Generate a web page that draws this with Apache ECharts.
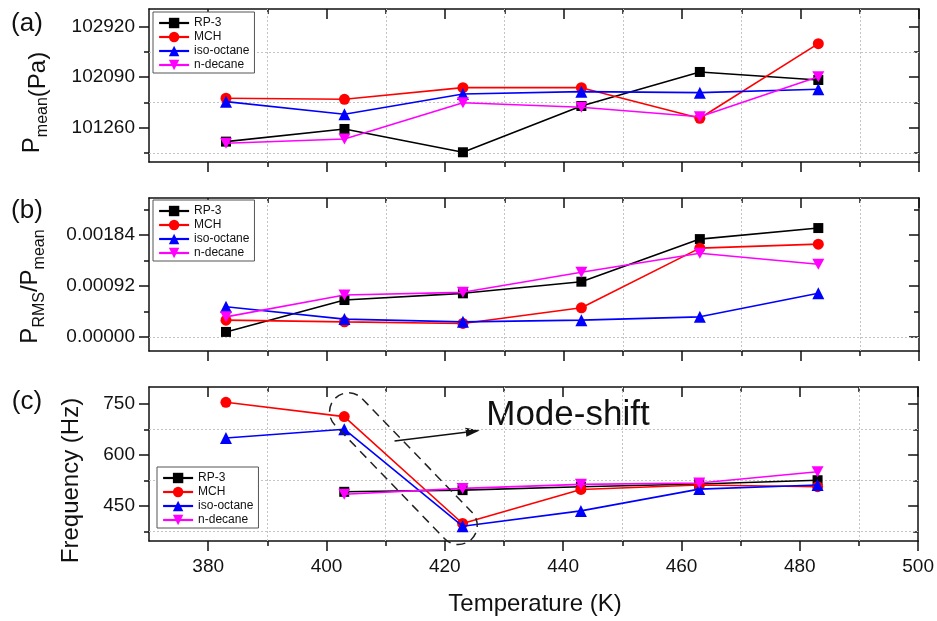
<!DOCTYPE html>
<html>
<head>
<meta charset="utf-8">
<script src="https://cdn.jsdelivr.net/npm/echarts@6/dist/echarts.min.js"></script>
<style>
  html, body { margin: 0; padding: 0; background: #fff; }
  #chart { width: 937px; height: 621px; }
</style>
</head>
<body>
<div id="chart"></div>
<script>
// ---- data ----
const temperatures = [383, 403, 423, 443, 463, 483];
const seriesNames = ['RP-3', 'MCH', 'iso-octane', 'n-decane'];

// (a) mean pressure, Pa
const pMeanRP3       = [101031, 101239, 100856, 101617, 102176, 102044];
const pMeanMCH       = [101744, 101727, 101918, 101918, 101415, 102641];
const pMeanIsoOctane = [101688, 101481, 101814, 101852, 101836, 101891];
const pMeanNDecane   = [101004, 101075, 101671, 101596, 101441, 102098];

// (b) P_RMS / P_mean
const ratioRP3       = [0.000090, 0.000665, 0.000786, 0.000996, 0.001764, 0.001963];
const ratioMCH       = [0.000302, 0.000272, 0.000243, 0.000525, 0.001601, 0.001673];
const ratioIsoOctane = [0.000543, 0.000321, 0.000272, 0.000302, 0.000362, 0.000786];
const ratioNDecane   = [0.000362, 0.000755, 0.000804, 0.001166, 0.001510, 0.001311];

// (c) dominant frequency, Hz (no RP-3 / n-decane point at 383 K)
const freqRP3        = [null, 492, 497, 507, 515, 526];
const freqMCH        = [755, 713, 399, 499, 512, 507];
const freqIsoOctane  = [650, 676, 391, 436, 500, 512];
const freqNDecane    = [null, 485, 502, 514, 518, 551];

// ---- axes ----
const xRange = [370, 500];
const xMajorTicks = [380, 400, 420, 440, 460, 480, 500];
const xMinorTicks = [390, 410, 430, 450, 470, 490];

const yRangeA = [100696, 103211];
const yMajorA = [101260, 102090, 102920];
const yMinorA = [100845, 101675, 102505];

const yRangeB = [-0.000254, 0.002505];
const yMajorB = [0, 0.00092, 0.00184];
const yMinorB = [0.00046, 0.00138, 0.00230];

const yRangeC = [347.5, 800];
const yMajorC = [450, 600, 750];
const yMinorC = [375, 525, 675];

// annotation in panel (c), data coordinates
const modeShiftText = 'Mode-shift';
const modeShiftTextAt = [427.0, 716.6];
const arrowFrom = [411.5, 641.6];
const arrowTo = [425.9, 672.0];
const regionCenter = [413.0, 560.0];

// ---- styling ----
const fontFamily = '"Liberation Sans", Arial, Helvetica, sans-serif';
const ink = '#111';
const colors = ['#000000', '#ff0000', '#0000ff', '#ff00ff'];
const markers = [
  { symbol: 'rect', size: 10 },
  { symbol: 'circle', size: 11 },
  { symbol: 'triangle', size: 12 },
  { symbol: 'path://M0,0L10,0L5,9Z', size: [12, 11] }
];
const frameStyle = { color: ink, width: 1.5 };
const tickStyle = { color: ink, width: 1.5 };
const gridLineStyle = { color: '#c4c4c4', width: 1, type: [2, 2] };

const panels = [
  { top: 9,   height: 153, legendLeft: 153, legendTop: 12,
    yRange: yRangeA, yMajor: yMajorA, yMinor: yMinorA,
    fmt: v => String(Math.round(v)),
    values: [pMeanRP3, pMeanMCH, pMeanIsoOctane, pMeanNDecane], xLabels: false },
  { top: 198, height: 153, legendLeft: 153, legendTop: 200,
    yRange: yRangeB, yMajor: yMajorB, yMinor: yMinorB,
    fmt: v => v.toFixed(5),
    values: [ratioRP3, ratioMCH, ratioIsoOctane, ratioNDecane], xLabels: false },
  { top: 387, height: 154, legendLeft: 157, legendTop: 467,
    yRange: yRangeC, yMajor: yMajorC, yMinor: yMinorC,
    fmt: v => String(Math.round(v)),
    values: [freqRP3, freqMCH, freqIsoOctane, freqNDecane], xLabels: true }
];

const grid = [], xAxis = [], yAxis = [], series = [], legend = [];

panels.forEach((p, gi) => {
  grid.push({ left: 149, width: 770, top: p.top, height: p.height, containLabel: false });

  const xBase = { gridIndex: gi, type: 'value', min: xRange[0], max: xRange[1],
    splitLine: { show: false }, axisLabel: { show: false },
    axisLine: { show: false, onZero: false } };
  xAxis.push(
    { ...xBase, position: 'bottom',
      axisLine: { show: true, onZero: false, lineStyle: frameStyle },
      axisTick: { show: true, customValues: xMajorTicks, length: 10, lineStyle: tickStyle },
      axisLabel: p.xLabels
        ? { show: true, customValues: xMajorTicks, fontSize: 19, color: ink, fontFamily, margin: 16 }
        : { show: false } },
    { ...xBase, position: 'bottom',
      axisTick: { show: true, customValues: xMinorTicks, length: 5, lineStyle: tickStyle } },
    { ...xBase, position: 'top',
      axisLine: { show: true, onZero: false, lineStyle: frameStyle },
      axisTick: { show: true, inside: true, customValues: xMajorTicks, length: 10, lineStyle: tickStyle } },
    { ...xBase, position: 'top',
      axisTick: { show: true, inside: true, customValues: xMinorTicks, length: 5, lineStyle: tickStyle } }
  );

  const yBase = { gridIndex: gi, type: 'value', min: p.yRange[0], max: p.yRange[1],
    splitLine: { show: false }, axisLabel: { show: false },
    axisLine: { show: false, onZero: false } };
  yAxis.push(
    { ...yBase, position: 'left',
      axisLine: { show: true, onZero: false, lineStyle: frameStyle },
      axisTick: { show: true, customValues: p.yMajor, length: 10, lineStyle: tickStyle },
      axisLabel: { show: true, customValues: p.yMajor, formatter: p.fmt,
        fontSize: 19, color: ink, fontFamily, margin: 14 } },
    { ...yBase, position: 'left',
      axisTick: { show: true, customValues: p.yMinor, length: 5, lineStyle: tickStyle } },
    { ...yBase, position: 'right',
      axisLine: { show: true, onZero: false, lineStyle: frameStyle },
      axisTick: { show: true, inside: true, customValues: p.yMajor, length: 10, lineStyle: tickStyle } },
    { ...yBase, position: 'right',
      axisTick: { show: true, inside: true, customValues: p.yMinor, length: 5, lineStyle: tickStyle } }
  );

  // dotted grid at the minor tick positions, drawn beneath the data
  series.push({
    name: 'grid-' + gi, type: 'line', xAxisIndex: gi * 4, yAxisIndex: gi * 4,
    data: [], z: 1, silent: true, animation: false,
    markLine: {
      silent: true, animation: false, z: 1, symbol: ['none', 'none'],
      label: { show: false }, emphasis: { disabled: true },
      lineStyle: gridLineStyle,
      data: xMinorTicks.map(v => ({ xAxis: v })).concat(p.yMinor.map(v => ({ yAxis: v })))
    }
  });

  p.values.forEach((vals, si) => {
    series.push({
      name: seriesNames[si], type: 'line',
      xAxisIndex: gi * 4, yAxisIndex: gi * 4,
      data: temperatures.map((t, i) => (vals[i] == null ? null : [t, vals[i]])).filter(Boolean),
      symbol: markers[si].symbol, symbolSize: markers[si].size, showAllSymbol: true,
      lineStyle: { color: colors[si], width: 1.6 },
      itemStyle: { color: colors[si] },
      z: 3 + si, animation: false
    });
  });

  legend.push({
    data: seriesNames, orient: 'vertical', left: p.legendLeft, top: p.legendTop,
    itemWidth: 30, itemHeight: 13, itemGap: 2, padding: [5, 5, 2, 5],
    borderColor: '#555', borderWidth: 1, backgroundColor: '#fff',
    textStyle: { fontSize: 12, color: ink, fontFamily },
    lineStyle: { width: 2.2 },
    selectedMode: false, z: 10
  });
});

const chart = echarts.init(document.getElementById('chart'));

const titleRich = {
  m: { fontSize: 24, lineHeight: 36, verticalAlign: 'middle', fontFamily },
  s: { fontSize: 16, lineHeight: 16, verticalAlign: 'bottom', fontFamily },
  o: { fontSize: 24, lineHeight: 24, verticalAlign: 'bottom', fontFamily }
};

const staticGraphics = [
  { type: 'text', x: 27, y: 24, style: { text: '(a)', fontSize: 26, fontFamily, fill: ink, align: 'center', verticalAlign: 'middle' } },
  { type: 'text', x: 27, y: 211, style: { text: '(b)', fontSize: 26, fontFamily, fill: ink, align: 'center', verticalAlign: 'middle' } },
  { type: 'text', x: 27, y: 402, style: { text: '(c)', fontSize: 26, fontFamily, fill: ink, align: 'center', verticalAlign: 'middle' } },
  { type: 'text', x: 32.5, y: 102.5, rotation: Math.PI / 2,
    style: { text: '{m|P}{s|mean}{o|(Pa)}', rich: titleRich, fill: ink, align: 'center', verticalAlign: 'middle' } },
  { type: 'text', x: 30, y: 286.5, rotation: Math.PI / 2,
    style: { text: '{m|P}{s|RMS}{m|/P}{s|mean}', rich: titleRich, fill: ink, align: 'center', verticalAlign: 'middle' } },
  { type: 'text', x: 71.7, y: 480.5, rotation: Math.PI / 2,
    style: { text: 'Frequency (Hz)', fontSize: 24, fontFamily, fill: ink, align: 'center', verticalAlign: 'middle' } },
  { type: 'text', x: 535, y: 604.5,
    style: { text: 'Temperature (K)', fontSize: 24, fontFamily, fill: ink, align: 'center', verticalAlign: 'middle' } }
];

chart.setOption({
  animation: false,
  textStyle: { fontFamily },
  grid, xAxis, yAxis, series, legend,
  graphic: staticGraphics
});

// annotation of the mode shift in panel (c); series 10 is MCH in panel (c)
const toPx = pt => chart.convertToPixel({ seriesIndex: 10 }, pt);
const pText = toPx(modeShiftTextAt);
const pA = toPx(arrowFrom);
const pB = toPx(arrowTo);
const pC = toPx(regionCenter);
const dx = pB[0] - pA[0], dy = pB[1] - pA[1];
const len = Math.hypot(dx, dy), ux = dx / len, uy = dy / len;
const headLen = 14, headHalf = 4.5;
const base = [pB[0] - ux * headLen, pB[1] - uy * headLen];
const regionAngle = 46 * Math.PI / 180;
const regionLen = 196, regionWidth = 38;

chart.setOption({
  graphic: staticGraphics.concat([
    { type: 'text', x: pText[0], y: pText[1],
      style: { text: modeShiftText, fontSize: 35, fontFamily, fill: ink, align: 'left', verticalAlign: 'middle' } },
    { type: 'line', shape: { x1: pA[0], y1: pA[1], x2: base[0], y2: base[1] },
      style: { stroke: ink, lineWidth: 1.5 } },
    { type: 'polygon', shape: { points: [
        [pB[0], pB[1]],
        [base[0] - uy * headHalf, base[1] + ux * headHalf],
        [base[0] + uy * headHalf, base[1] - ux * headHalf]
      ] }, style: { fill: ink } },
    { type: 'rect', x: pC[0], y: pC[1], rotation: -regionAngle, z: 20,
      shape: { x: -regionLen / 2, y: -regionWidth / 2, width: regionLen, height: regionWidth, r: regionWidth / 2 },
      style: { fill: 'none', stroke: '#222', lineWidth: 1.5, lineDash: [9, 6] } }
  ])
}, { replaceMerge: ['graphic'] });
</script>
</body>
</html>
